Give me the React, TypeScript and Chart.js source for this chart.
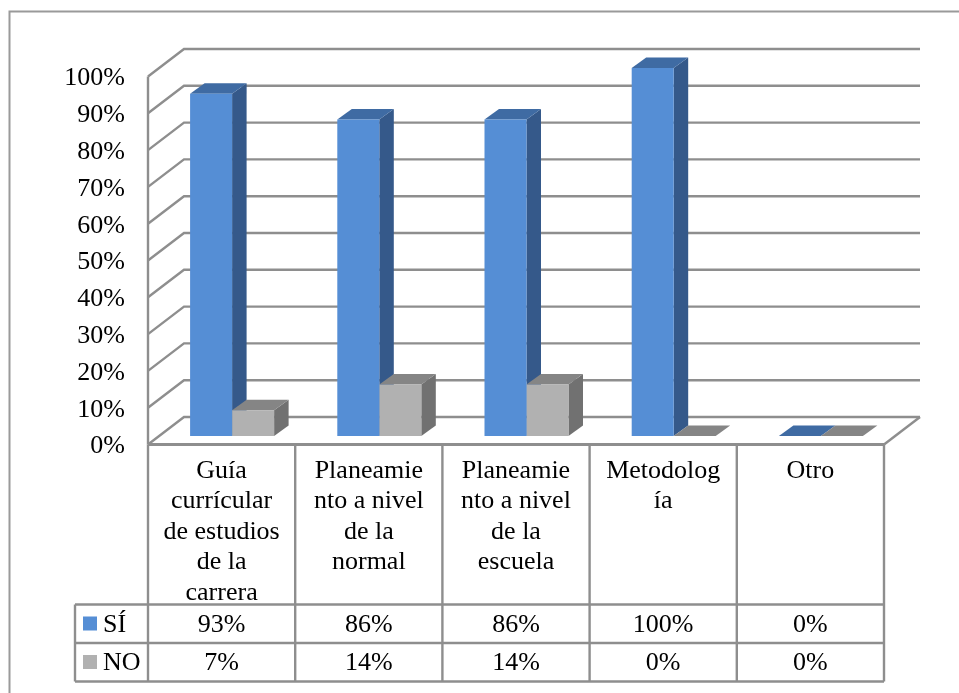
import React, { useEffect, useRef } from "react";
import { Chart, registerables } from "chart.js";

Chart.register(...registerables);

const categories = [
  ["Guía", "currícular", "de estudios", "de la", "carrera"],
  ["Planeamie", "nto a nivel", "de la", "normal"],
  ["Planeamie", "nto a nivel", "de la", "escuela"],
  ["Metodolog", "ía"],
  ["Otro"],
];
const siValues = [93, 86, 86, 100, 0];
const noValues = [7, 14, 14, 0, 0];
const seriesNames = ["SÍ", "NO"];
const yTicks = [0, 10, 20, 30, 40, 50, 60, 70, 80, 90, 100];

const FONT = '"Liberation Serif", "Times New Roman", serif';
const FRONT = ["#558ed5", "#b1b1b1"];
const SIDE = ["#35598a", "#717171"];
const TOP = ["#3f6ba3", "#858585"];
const LINE = "#8e8e8e";

const poly = (ctx: CanvasRenderingContext2D, pts: number[][], fill: string) => {
  ctx.beginPath();
  pts.forEach((p, i) => (i ? ctx.lineTo(p[0], p[1]) : ctx.moveTo(p[0], p[1])));
  ctx.closePath();
  ctx.fillStyle = fill;
  ctx.fill();
};

const line = (ctx: CanvasRenderingContext2D, pts: number[][], w = 2.4, c = LINE) => {
  ctx.beginPath();
  pts.forEach((p, i) => (i ? ctx.lineTo(p[0], p[1]) : ctx.moveTo(p[0], p[1])));
  ctx.strokeStyle = c;
  ctx.lineWidth = w;
  ctx.stroke();
};

const scene3d = {
  id: "scene3d",
  beforeDraw(chart: any) {
    const ctx = chart.ctx;
    ctx.save();
    ctx.fillStyle = "#ffffff";
    ctx.fillRect(0, 0, chart.width, chart.height);
    line(ctx, [[9.5, 693], [9.5, 11.5], [959, 11.5]], 2, "#9a9a9a");
    ctx.restore();
  },
  beforeDatasetsDraw(chart: any) {
    const ctx = chart.ctx;
    const y = chart.scales.y;
    const area = chart.chartArea;
    const fx = area.left - 10.5;
    const bx = area.left + 25.5;
    const rx = area.right + 25.5;
    ctx.save();
    yTicks.forEach((v) => {
      const p = y.getPixelForValue(v);
      line(ctx, [[fx, p + 8.5], [bx, p - 19], [rx, p - 19]]);
    });
    const p0 = y.getPixelForValue(0);
    line(ctx, [[fx, y.getPixelForValue(100) + 8.5], [fx, p0 + 8.5]]);
    line(ctx, [[area.right - 10.5, p0 + 8.5], [rx, p0 - 19]]);
    const dx = 14.5;
    const dy = 10.5;
    [0, 1].forEach((d) => {
      chart.getDatasetMeta(d).data.forEach((b: any) => {
        const l = b.x - b.width / 2;
        const r = b.x + b.width / 2;
        if (b.base - b.y > 0.5) {
          poly(ctx, [[r, b.y], [r + dx, b.y - dy], [r + dx, b.base - dy], [r, b.base]], SIDE[d]);
        }
        poly(ctx, [[l, b.y], [l + dx, b.y - dy], [r + dx, b.y - dy], [r, b.y]], TOP[d]);
      });
    });
    ctx.restore();
  },
  afterDraw(chart: any) {
    const ctx = chart.ctx;
    const area = chart.chartArea;
    const x = chart.scales.x;
    const y = chart.scales.y;
    const off = 10.5;
    const step = x.getPixelForValue(1) - x.getPixelForValue(0);
    const axisLeft = area.left - off;
    const axisRight = area.right - off;
    const floor = y.getPixelForValue(0) + 8.5;
    const rowA = 604.5;
    const rowB = 643;
    const rowC = 681.5;
    const legendLeft = 75;
    ctx.save();
    line(ctx, [[axisLeft, floor], [axisRight, floor]], 2.8);
    categories.forEach((_, i) => {
      const cx = axisLeft + step * (i + 1);
      line(ctx, [[cx, floor], [cx, rowC]]);
    });
    line(ctx, [[axisLeft, floor], [axisLeft, rowC]]);
    [rowA, rowB, rowC].forEach((r) => line(ctx, [[legendLeft, r], [axisRight, r]]));
    line(ctx, [[legendLeft, rowA], [legendLeft, rowC]]);
    ctx.font = `26px ${FONT}`;
    ctx.textBaseline = "middle";
    [siValues, noValues].forEach((vals, row) => {
      const top = row === 0 ? rowA : rowB;
      const mid = top + 19;
      ctx.fillStyle = FRONT[row];
      ctx.fillRect(83, mid - 7, 14, 14);
      ctx.fillStyle = "#000000";
      ctx.textAlign = "left";
      ctx.fillText(seriesNames[row], 103, mid + 1.5);
      ctx.textAlign = "center";
      vals.forEach((v, i) => {
        ctx.fillText(`${v}%`, axisLeft + step * (i + 0.5), mid + 1.5);
      });
    });
    ctx.restore();
  },
};

export default function App() {
  const ref = useRef<HTMLCanvasElement>(null);
  useEffect(() => {
    const chart = new Chart(ref.current as HTMLCanvasElement, {
      type: "bar",
      data: {
        labels: categories as any,
        datasets: [
          { label: seriesNames[0], data: siValues, backgroundColor: FRONT[0] },
          { label: seriesNames[1], data: noValues, backgroundColor: FRONT[1] },
        ],
      },
      plugins: [scene3d],
      options: {
        responsive: false,
        animation: false,
        layout: { padding: { left: 0, right: 64.5, top: 68, bottom: 89 } },
        plugins: { legend: { display: false }, tooltip: { enabled: false } },
        datasets: { bar: { barPercentage: 1, categoryPercentage: 0.5707 } },
        scales: {
          x: {
            grid: { display: false, drawTicks: false },
            border: { display: false },
            afterFit: (s: any) => {
              s.height = 168;
            },
            ticks: {
              autoSkip: false,
              maxRotation: 0,
              minRotation: 0,
              padding: 20,
              labelOffset: -10.5,
              color: "#000000",
              font: { family: FONT, size: 26, lineHeight: 1.17 },
            },
          },
          y: {
            min: 0,
            max: 100,
            grid: { display: false, drawTicks: false },
            border: { display: false },
            afterFit: (s: any) => {
              s.width = 158.5;
            },
            ticks: {
              stepSize: 10,
              padding: 33.5,
              labelOffset: 10.5,
              color: "#000000",
              font: { family: FONT, size: 26 },
              callback: (v: any) => `${v}%`,
            },
          },
        },
      } as any,
    });
    return () => chart.destroy();
  }, []);
  return (
    <canvas
      ref={ref}
      width={959}
      height={693}
      style={{ position: "absolute", left: 0, top: 0, display: "block" }}
    />
  );
}
